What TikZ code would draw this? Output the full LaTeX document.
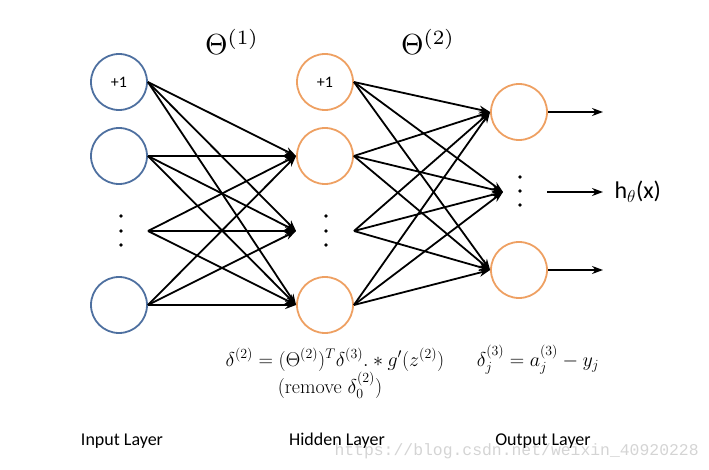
\documentclass[tikz,border=0pt]{standalone}
\usepackage{amsmath}
\usepackage{fontspec}
\setsansfont{Carlito}
\newfontfamily\wmfont{Liberation Mono}
\usetikzlibrary{arrows.meta}
\definecolor{inblue}{RGB}{78,112,160}
\definecolor{hidorange}{RGB}{238,160,98}
\definecolor{wmgray}{RGB}{212,212,212}
\begin{document}
\begin{tikzpicture}[x=1pt,y=-1pt,
  neuron/.style={circle,draw,line width=1.8pt,minimum size=56pt,inner sep=0pt,
    font=\sffamily\fontsize{16}{18}\selectfont},
  inneuron/.style={neuron,draw=inblue},
  hidneuron/.style={neuron,draw=hidorange},
  conn/.style={line width=1.8pt,-{Stealth[length=11pt,width=8pt]}},
  dotmark/.style={circle,fill=black,inner sep=0pt,minimum size=3.8pt},
  lbl/.style={font=\sffamily\fontsize{18}{21}\selectfont,anchor=base},
  frm/.style={font=\fontsize{17.28}{20}\selectfont,anchor=base}]
\useasboundingbox (0,0) rectangle (709,470);
% input layer
\node[inneuron] (i0) at (119,82) {+1};
\node[inneuron] (i1) at (119,156) {};
\coordinate (ie) at (148,231);
\node[inneuron] (in) at (119,305) {};
\foreach \yy [count=\k] in {216,231,245} \node[dotmark] (id\k) at (121,\yy) {};
% hidden layer
\node[hidneuron] (h0) at (325,82) {+1};
\node[hidneuron] (h1) at (325,156) {};
\coordinate (hw) at (296,231);
\coordinate (he) at (354,231);
\node[hidneuron] (hn) at (325,305) {};
\foreach \yy [count=\k] in {216,231,245} \node[dotmark] (hd\k) at (326,\yy) {};
% output layer
\node[hidneuron] (o1) at (519,112) {};
\coordinate (ow) at (503,192);
\coordinate (oe) at (547,192);
\node[hidneuron] (on) at (519,270) {};
\foreach \yy [count=\k] in {177,191,205} \node[dotmark] (od\k) at (520,\yy) {};
\coordinate (oa1) at (603,112);
\coordinate (oa2) at (603,192);
\coordinate (oa3) at (603,270);
% connections
\foreach \s in {i0.east,i1.east,ie,in.east}
  \foreach \t in {h1.west,hw,hn.west}
    \draw[conn] (\s) -- (\t);
\foreach \s in {h0.east,h1.east,he,hn.east}
  \foreach \t in {o1.west,ow,on.west}
    \draw[conn] (\s) -- (\t);
\draw[conn] (o1.east) -- (oa1);
\draw[conn] (oe) -- (oa2);
\draw[conn] (on.east) -- (oa3);
% labels
\node (t1) at (232,42) {\scalebox{2.9}{$\Theta^{(1)}$}};
\node (t2) at (428,42) {\scalebox{2.9}{$\Theta^{(2)}$}};
\node[anchor=west] (hx) at (611,192) {\sffamily\fontsize{24}{28}\selectfont h$_\theta$(x)};
\node[frm] (f1) at (335,366) {\scalebox{1.16}{$\delta^{(2)}=(\Theta^{(2)})^T\delta^{(3)}.*g'(z^{(2)})$}};
\node[frm] (f2) at (538,366) {\scalebox{1.16}{$\delta^{(3)}_j=a^{(3)}_j-y_j$}};
\node[frm] (f3) at (330,393) {\scalebox{1.16}{(remove $\delta^{(2)}_0$)}};
\node[text=wmgray,font=\wmfont\fontsize{16.4}{18}\selectfont,anchor=base west] (wm) at (331,455) {https://blog.csdn.net/weixin\_40920228};
\node[lbl] (l1) at (122,445) {Input Layer};
\node[lbl] (l2) at (337,445) {Hidden Layer};
\node[lbl] (l3) at (543,445) {Output Layer};
\end{tikzpicture}
\end{document}
